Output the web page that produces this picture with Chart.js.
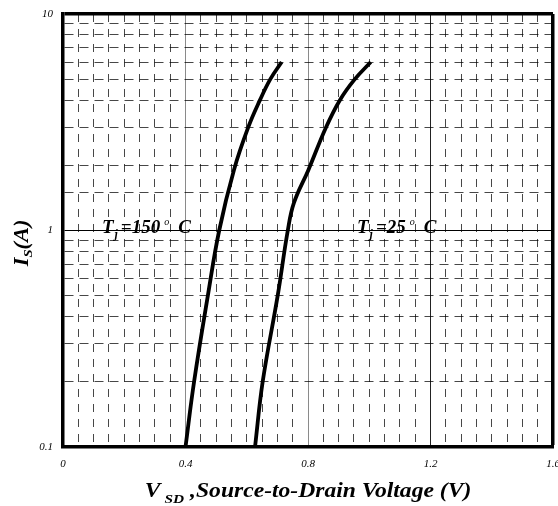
<!DOCTYPE html>
<html><head><meta charset="utf-8">
<script src="https://cdn.jsdelivr.net/npm/chart.js@4/dist/chart.umd.min.js"></script>
<style>html,body{margin:0;padding:0;background:#fff}#wrap{width:558px;height:506px}</style>
</head><body><div id="wrap"><canvas id="c" width="558" height="506"></canvas></div>
<script>
// ---- data ----
const tj150V = [0.400, 0.428, 0.473, 0.510, 0.558, 0.605, 0.643, 0.677, 0.714];
const tj150I = [0.1,   0.2,   0.5,   1.0,   1.9,   3.0,   4.0,   5.0,   6.0];
const tj25V  = [0.627, 0.652, 0.701, 0.734, 0.754, 0.801, 0.859, 0.904, 0.953, 1.005];
const tj25I  = [0.1,   0.2,   0.5,   1.0,   1.34,  1.9,   3.0,   4.0,   5.0,   6.0];
const xTickLabels = ['0', '0.4', '0.8', '1.2', '1.6'];
const yTickLabels = ['0.1', '1', '10'];
const yTitle = ['I', 'S', '(A)'];
const xTitle = ['V', 'SD', ',Source-to-Drain Voltage (V)'];
const label150 = ['T', 'j', '=150', 'o', 'C'];
const label25 = ['T', 'j', '=25', 'o', 'C'];
const label150At = [0.127, 1.0];
const label25At = [0.960, 1.0];

const toPts = (xs, ys) => xs.map((v, i) => ({x: v, y: ys[i]}));
const near = (a, b) => Math.abs(a - b) < 1e-6;
const SERIF = "'Liberation Serif', 'Times New Roman', serif";

function stretchText(c, txt, x, y, sx) {
  c.save(); c.translate(x, y); c.scale(sx, 1); c.fillText(txt, 0, 0); c.restore();
  return c.measureText(txt).width * sx;
}

const textPlugin = {
  id: 'texts',
  afterDraw(chart) {
    const c = chart.ctx, xs = chart.scales.x, ys = chart.scales.y;
    c.save();
    c.fillStyle = '#000';
    // tick labels
    c.font = 'italic 11px ' + SERIF;
    c.textAlign = 'center'; c.textBaseline = 'middle';
    xTickLabels.forEach(l => c.fillText(l, xs.getPixelForValue(parseFloat(l)), 464));
    c.textAlign = 'right';
    yTickLabels.forEach(l => c.fillText(l, 53, ys.getPixelForValue(parseFloat(l))));
    c.textAlign = 'left'; c.textBaseline = 'alphabetic';
    // x title
    const big = 'bold italic 20px ' + SERIF, small = 'bold italic 13px ' + SERIF;
    const SX = 1.18;
    c.font = big; const w0 = c.measureText(xTitle[0]).width * SX, w2 = c.measureText(xTitle[2]).width * SX;
    c.font = small; const w1 = c.measureText(xTitle[1]).width * SX;
    const tot = w0 + 4 + w1 + 6 + w2;
    let x = 308 - tot / 2;
    c.font = big; x += stretchText(c, xTitle[0], x, 497, SX) + 4;
    c.font = small; x += stretchText(c, xTitle[1], x, 503, SX) + 6;
    c.font = big; stretchText(c, xTitle[2], x, 497, SX);
    // y title (rotated)
    c.save();
    c.translate(28, 243); c.rotate(-Math.PI / 2);
    const SY = 1.12;
    c.font = big; const a0 = c.measureText(yTitle[0]).width * SY, a2 = c.measureText(yTitle[2]).width * SY;
    c.font = small; const a1 = c.measureText(yTitle[1]).width * SY;
    let t = -(a0 + a1 + a2) / 2;
    c.font = big; t += stretchText(c, yTitle[0], t, 0, SY);
    c.font = small; t += stretchText(c, yTitle[1], t, 4, SY);
    c.font = big; stretchText(c, yTitle[2], t, 0, SY);
    c.restore();
    // curve labels
    const drawLabel = (parts, at) => {
      let px = xs.getPixelForValue(at[0]);
      const by = ys.getPixelForValue(at[1]) + 2;
      c.font = 'bold italic 19px ' + SERIF; c.fillText(parts[0], px, by); px += c.measureText(parts[0]).width + 1;
      c.font = 'bold italic 12px ' + SERIF; c.fillText(parts[1], px, by + 5); px += c.measureText(parts[1]).width + 3;
      c.font = 'bold italic 19px ' + SERIF; c.fillText(parts[2], px, by); px += c.measureText(parts[2]).width + 4;
      c.font = 'italic 10px ' + SERIF; c.fillText(parts[3], px, by - 8); px += c.measureText(parts[3]).width + 9;
      c.font = 'bold italic 19px ' + SERIF; c.fillText(parts[4], px, by);
    };
    drawLabel(label150, label150At);
    drawLabel(label25, label25At);
    c.restore();
  }
};

const dashX = (ctx) => {
  const v = ctx.tick ? ctx.tick.value : 0;
  const r = v / 0.4;
  return near(r, Math.round(r)) ? [] : [8, 7];
};
const dashY = (ctx) => {
  const v = ctx.tick ? ctx.tick.value : 1;
  const l = Math.log10(v);
  return near(l, Math.round(l)) ? [] : [9, 6];
};

new Chart(document.getElementById('c'), {
  type: 'line',
  data: {
    datasets: [
      {data: toPts(tj150V, tj150I), borderColor: '#000', borderWidth: 3.8, pointRadius: 0, tension: 0.4, fill: false},
      {data: toPts(tj25V, tj25I), borderColor: '#000', borderWidth: 3.8, pointRadius: 0, tension: 0.4, fill: false}
    ]
  },
  options: {
    responsive: false, animation: false, devicePixelRatio: 1,
    layout: {padding: {top: 14, right: 5, left: 0, bottom: 0}},
    plugins: {legend: {display: false}, tooltip: {enabled: false}, title: {display: false}},
    scales: {
      x: {
        type: 'linear', min: 0, max: 1.6,
        afterFit(s) { s.height = 59; },
        ticks: {stepSize: 0.05, display: false},
        border: {display: true, color: '#000', width: 3.5, dash: dashX},
        grid: {
          drawTicks: false, tickLength: 0,
          color: (ctx) => {
            const v = ctx.tick ? ctx.tick.value : 0;
            if (near(v, 1.6)) return '#000';
            if (near(v, 1.2)) return '#222';
            if (near(v, 0.4) || near(v, 0.8)) return '#8a8a8a';
            return 'rgba(0,0,0,0.72)';
          },
          lineWidth: (ctx) => {
            const v = ctx.tick ? ctx.tick.value : 0;
            if (near(v, 1.6)) return 3.5;
            return 1;
          }
        }
      },
      y: {
        type: 'logarithmic', min: 0.1, max: 10,
        afterFit(s) { s.width = 63; },
        ticks: {display: false},
        border: {display: true, color: '#000', width: 3.5, dash: dashY},
        grid: {
          drawTicks: false, tickLength: 0,
          color: (ctx) => {
            const v = ctx.tick ? ctx.tick.value : 1;
            const l = Math.log10(v);
            if (near(l, Math.round(l))) return '#000';
            return 'rgba(0,0,0,0.72)';
          },
          lineWidth: (ctx) => {
            const v = ctx.tick ? ctx.tick.value : 1;
            if (near(v, 10)) return 3.5;
            return 1;
          }
        }
      }
    }
  },
  plugins: [textPlugin]
});
</script></body></html>
